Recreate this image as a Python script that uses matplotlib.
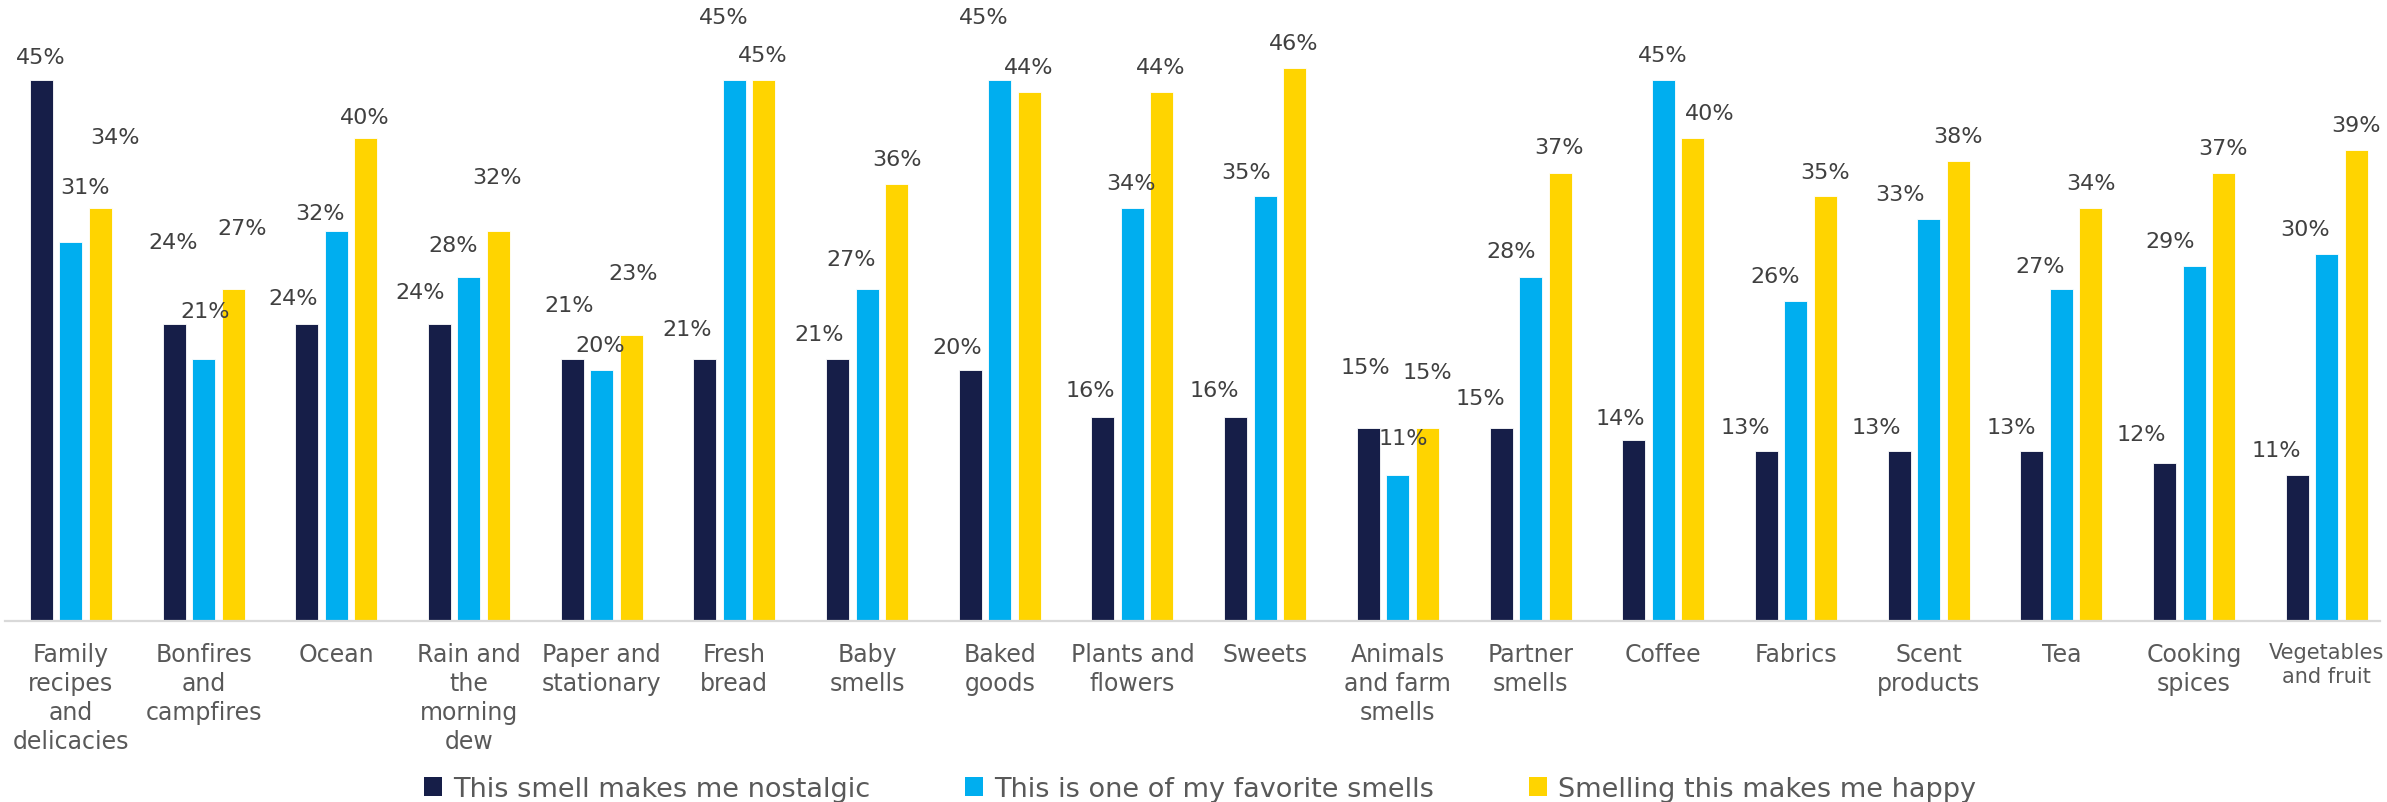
"""
Which smells people find nostalgic, favourite or happy - grouped bar chart.
"""

import matplotlib.pyplot as plt
import numpy as np
from matplotlib.patches import Patch

categories = [
    'Family\nrecipes\nand\ndelicacies', 'Bonfires\nand\ncampfires', 'Ocean',
    'Rain and\nthe\nmorning\ndew', 'Paper and\nstationary', 'Fresh\nbread',
    'Baby\nsmells', 'Baked\ngoods', 'Plants and\nflowers', 'Sweets',
    'Animals\nand farm\nsmells', 'Partner\nsmells', 'Coffee', 'Fabrics',
    'Scent\nproducts', 'Tea', 'Cooking\nspices', 'Vegetables\nand fruit',
]

series_names = [
    'This smell makes me nostalgic',
    'This is one of my favorite smells',
    'Smelling this makes me happy',
]

nostalgic = [45, 24, 24, 24, 21, 21, 21, 20, 16, 16, 15, 15, 14, 13, 13, 13, 12, 11]
favorite = [31, 21, 32, 28, 20, 45, 27, 45, 34, 35, 11, 28, 45, 26, 33, 27, 29, 30]
happy = [34, 27, 40, 32, 23, 45, 36, 44, 44, 46, 15, 37, 40, 35, 38, 34, 37, 39]

colors = ['#161E48', '#00AEEF', '#FFD400']

# hand-placed label nudges (pixels, relative to the bar top centre)
nostalgic_label_shift = [(-1, 23), (-1, 82), (-14, 26), (-19, 32), (-3, 54), (-18, 30),
                         (-18, 25), (-13, 23), (-13, 27), (-21, 27), (-3, 61), (-21, 30),
                         (-13, 22), (-21, 24), (-23, 24), (-21, 24), (-23, 29), (-21, 25)]
favorite_label_shift = [(14, 55), (2, 48), (-16, 18), (-16, 32), (-1, 25), (-11, 63),
                        (-16, 30), (-16, 63), (-1, 25), (-19, 24), (5, 37), (-19, 26),
                        (-1, 25), (-21, 25), (-29, 25), (-21, 23), (-24, 25), (-22, 25)]
happy_label_shift = [(15, 71), (9, 61), (-1, 21), (-1, 54), (2, 62), (-1, 25),
                     (0, 25), (-1, 25), (-1, 25), (-1, 25), (0, 56), (-1, 26),
                     (17, 25), (0, 24), (0, 25), (0, 25), (-1, 25), (0, 25)]

W, H = 2387, 803
fig = plt.figure(figsize=(W / 100, H / 100), dpi=100)
ax = fig.add_axes([5 / W, (H - 622) / H, (2380 - 5) / W, 622 / H])

y_floor = -1.6
x = np.arange(len(categories))
bar_w = 0.173
step = 0.2223

all_series = [nostalgic, favorite, happy]
all_shifts = [nostalgic_label_shift, favorite_label_shift, happy_label_shift]

for k, (vals, shifts, color) in enumerate(zip(all_series, all_shifts, colors)):
    vals = np.array(vals, dtype=float)
    xs = x + (k - 1) * step
    ax.bar(xs, vals - y_floor, bottom=y_floor, width=bar_w, color=color,
           edgecolor='white', linewidth=0.6)
    for xi, v, (dx, dy) in zip(xs, vals, shifts):
        ax.annotate(f'{v:.0f}%', xy=(xi, v), xytext=(dx, dy),
                    textcoords='offset pixels', ha='center', va='center',
                    fontsize=16, color='#404040')

ax.set_xlim(-0.496, 17.401)
ax.set_ylim(y_floor, 51.97)

ax.set_xticks(x)
ax.set_xticklabels(categories, fontsize=17, color='#595959', linespacing=1.26)
# the last label is squeezed a little so it stays inside the chart
ax.get_xticklabels()[-1].set_fontsize(15)
ax.tick_params(axis='x', length=0, pad=15)
ax.set_yticks([])

for side in ['top', 'right', 'left']:
    ax.spines[side].set_visible(False)
ax.spines['bottom'].set_color('#D9D9D9')
ax.spines['bottom'].set_linewidth(1.6)

handles = [Patch(facecolor=c, edgecolor='none') for c in colors]
fig.legend(handles, series_names, loc='center', bbox_to_anchor=(1200 / W, 1 - 790 / H),
           ncol=3, frameon=False, fontsize=19.5, labelcolor='#595959',
           handlelength=0.68, handleheight=0.68, handletextpad=0.4,
           columnspacing=3.5, borderpad=0)

fig.savefig('out.png', dpi=100)
